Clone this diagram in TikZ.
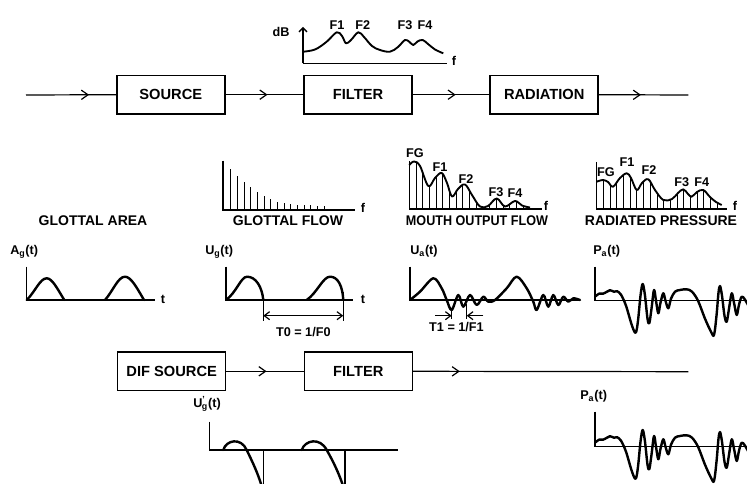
\documentclass[tikz,border=0pt]{standalone}
\usepackage{fontspec}
\setmainfont{Liberation Sans}
\usetikzlibrary{arrows.meta,decorations.markings}
\begin{document}
\begin{tikzpicture}[x=0.75pt,y=-0.75pt,
  box/.style={draw,line width=1.1pt,minimum width=81pt,minimum height=29pt,inner sep=0pt,font=\fontsize{11}{12}\selectfont\bfseries},
  big/.style={inner sep=0pt,font=\fontsize{10.5}{12}\selectfont\bfseries},
  sml/.style={inner sep=0pt,font=\fontsize{9.5}{11}\selectfont\bfseries},
  conn/.style={line width=0.9pt},
  chevat/.style={postaction={decorate},decoration={markings,mark=at position #1 with {\arrow{Straight Barb[length=5pt,width=7pt,line width=0.9pt]}}}},
  axis/.style={line width=1pt},
  wave/.style={line width=1.8pt,line join=round,line cap=round},
  env/.style={line width=1.4pt,line join=round},
  harm/.style={line width=0.75pt},
  dimarr/.style={line width=0.9pt,{Straight Barb[length=4pt,width=6pt]}-{Straight Barb[length=4pt,width=6pt]}}
]
\clip (0,0) rectangle (747,484);
\fill[white] (0,0) rectangle (747,484);

% ---------- top spectrum ----------
\draw[axis,-{Straight Barb[length=3pt,width=6pt]}] (303,63.3) -- (303,27) coordinate (dbtop);
\draw[axis] (303,63.3) -- (446.7,63.3);
\node[sml] (db) at (281,32) {dB};
\node[sml] (ftop) at (454,61) {f};
\draw[env] plot[smooth,tension=0.6] coordinates {(303,51.7) (315,49.5) (326.7,41.7) (336.7,32.3) (342,36) (346,43.3) (351,40) (358.3,32.3) (364,37) (372,46) (380,50) (390,51.7) (398,47) (405,40) (409.5,42) (413.3,45) (417.5,41.5) (422.7,40) (428,44) (435,49.5) (443.3,53.3)};
\node[sml] (tF1) at (337,25.5) {F1};
\node[sml] (tF2) at (362.7,25.5) {F2};
\node[sml] (tF3) at (405,25.5) {F3};
\node[sml] (tF4) at (425,25.5) {F4};

% ---------- top block row ----------
\coordinate (in) at (26,95);
\node[box] (src) at (170.8,94.7) {SOURCE};
\node[box] (flt) at (358,94.7) {FILTER};
\node[box] (rad) at (544.2,94.7) {RADIATION};
\coordinate (out) at (688.3,95);
\draw[conn,chevat=0.7] (in) -- (src.west);
\draw[conn,chevat=0.54] (src.east) -- (flt.west);
\draw[conn,chevat=0.56] (flt.east) -- (rad.west);
\draw[conn,chevat=0.47] (rad.east) -- (out);

% ---------- spectra row ----------
\node[big] (ga) at (93,221) {GLOTTAL AREA};
% glottal flow
\draw[axis] (223,160.7) -- (223,210) -- (355,210);
\foreach \dx/\h in {7/40.7,14/34.3,21/27.7,27.5/22.7,34/18.3,41/14.3,47.5/10.7,54/8.3,61/7.3,67.5/6,74/5.3,81/4.7,87.5/4.7,94/4.3,101/4}
  \draw[harm] ({223+\dx},210) -- ++(0,-\h);
\node[sml] (fgf) at (363,208) {f};
\node[big] (gf) at (288,221) {GLOTTAL FLOW};

% mouth output flow
\def\mouthenv{(409.3,165) (414,161.5) (420,166) (428.3,186) (435,178) (441.7,173) (447,183) (452,196.5) (458,189) (465,184.5) (472,195) (480,206.5) (488,206) (496.7,198.5) (505,206.5) (515,201) (522,205.5) (530,207.5)}
\begin{scope}
  \clip (409.3,209) -- plot[smooth,tension=0.6] coordinates {\mouthenv} -- (530,209) -- cycle;
  \foreach \i in {1,...,18} \draw[harm] ({409.3+6.7*\i},209) -- ++(0,-60);
\end{scope}
\draw[axis] (409.3,161) -- (409.3,209) -- (542,209);
\draw[env] plot[smooth,tension=0.6] coordinates {\mouthenv};
\node[sml] (mFG) at (415,153) {FG};
\node[sml] (mF1) at (440,167) {F1};
\node[sml] (mF2) at (466,179) {F2};
\node[sml] (mF3) at (496,192) {F3};
\node[sml] (mF4) at (515,193.5) {F4};
\node[sml] (mf) at (546,206) {f};
\node[big] (mo) at (477,221) {\scalebox{0.9}[1]{MOUTH OUTPUT FLOW}};

% radiated pressure
\def\radenv{(596.7,181.7) (603,180) (608,182) (613,186.7) (620,178) (626.7,173.3) (631,178) (636.7,190) (642,183) (648.3,179.3) (655,190) (663.3,200) (672,199) (678,193) (683.3,189.3) (688,194) (691.7,196.7) (697,192) (703.3,190) (710,197) (716,202) (721.7,205)}
\begin{scope}
  \clip (596.7,209) -- plot[smooth,tension=0.6] coordinates {\radenv} -- (721.7,209) -- cycle;
  \foreach \i in {1,...,19} \draw[harm] ({596.7+6.7*\i},209) -- ++(0,-60);
\end{scope}
\draw[axis] (596.7,162) -- (596.7,209) -- (727,209);
\draw[env] plot[smooth,tension=0.6] coordinates {\radenv};
\node[sml] (rFG) at (606,172) {FG};
\node[sml] (rF1) at (627,161.7) {F1};
\node[sml] (rF2) at (649,170) {F2};
\node[sml] (rF3) at (681.7,181.7) {F3};
\node[sml] (rF4) at (701.7,181.7) {F4};
\node[sml] (rf) at (735,206) {f};
\node[big] (rp) at (661,221) {RADIATED PRESSURE};

% ---------- waveforms row ----------
% A_g(t)
\node[sml,anchor=base west] (agl) at (10,255) {A\textsubscript{g}(t)};
\draw[axis] (26.7,266.7) -- (26.7,300) -- (155,300);
\node[sml] (agt) at (163,299) {t};
\draw[wave] (26.7,300) .. controls (35,292) and (40,278.3) .. (46.7,278.3) .. controls (52,278.3) and (57,288) .. (64.3,300);
\draw[wave] (105,300) .. controls (113,291) and (118,276.7) .. (125,276.7) .. controls (131,276.7) and (137,288) .. (144,300);

% U_g(t)
\node[sml,anchor=base west] (ugl) at (205,255) {U\textsubscript{g}(t)};
\draw[axis] (226,266.7) -- (226,300) -- (353,300);
\node[sml] (ugt) at (363,299) {t};
\draw[wave] (226,300) .. controls (236,293) and (241,276.7) .. (247,276.7) .. controls (256,276.7) and (262,287) .. (263.3,300);
\draw[wave] (306.7,300) .. controls (317,293) and (323,276.7) .. (330,276.7) .. controls (338,276.7) and (342.5,286) .. (343.3,300);
\coordinate (t0a) at (263.3,300);
\coordinate (t0b) at (343.3,292);
\draw[axis] (t0a) -- (263.3,321) coordinate (t0ab);
\draw[axis] (t0b) -- (343.3,321) coordinate (t0bb);
\coordinate (t0l) at (263.3,315.7);
\coordinate (t0r) at (343.3,315.7);
\draw[dimarr] (t0l) -- (t0r);
\node[sml] (t0) at (303.3,331.7) {T0 = 1/F0};

% U_a(t)
\node[sml,anchor=base west] (ual) at (410,255) {U\textsubscript{a}(t)};
\draw[axis] (410,266.7) -- (410,300) -- (580,300);
\draw[wave] plot[smooth,tension=0.55] coordinates {(410,300) (420,291.7) (433.3,278.3) (441.7,288.3) (446.7,300) (451.7,310) (458.3,295) (463.3,306.7) (470,295) (476.7,305) (483.3,296.7) (488.3,301.7) (495,300) (506.7,288.3) (516.7,276.7) (526.7,288.3) (533.3,301.7) (536.7,310) (543.3,295) (548.3,306.7) (553.3,295) (558.3,305) (563.3,296.7) (568.3,301.7) (573.3,298.3) (580,300)};
\draw[axis] (451.7,309) -- (451.7,319);
\draw[axis] (466.7,304) -- (466.7,319);
\coordinate (t1l) at (451.7,315.7);
\coordinate (t1r) at (466.7,315.7);
\coordinate (t1la) at (435,315.7);
\coordinate (t1ra) at (483.3,315.7);
\draw[line width=0.9pt,-{Straight Barb[length=4pt,width=6pt]}] (t1la) -- (t1l);
\draw[line width=0.9pt,-{Straight Barb[length=4pt,width=6pt]}] (t1ra) -- (t1r);
\node[sml] (t1) at (456.5,327) {T1 = 1/F1};

% P_a(t) upper
\def\pawave{(0,-4) (4,-7) (8,-7) (12,-9) (15,-10.5) (19,-9) (22,-9.5) (26,-6) (31,5) (37,25) (40.7,32) (43,20) (45.5,-5) (47.7,-16.7) (50,-5) (52.5,18) (54.3,22.6) (56.5,8) (59,-10.7) (61,0) (63.3,12.6) (65.5,2) (68.3,-7.4) (70.5,0) (73.3,7.6) (76,-2) (80,-9) (85,-10.7) (91.7,-11.4) (97,-9) (103,0) (110,18) (116,31) (119,34.3) (121.5,15) (123.5,-8) (125,-14.7) (127,-5) (129.5,15) (131.7,21) (134,8) (136.7,-7.4) (139,2) (141.7,14.3) (144,4) (146.7,-4) (150,-1) (155,8)}
\node[sml,anchor=base west] (pal) at (593,255) {P\textsubscript{a}(t)};
\draw[axis] (595,266.7) -- (595,300.7) -- (747,300.7);
\draw[wave,shift={(595,300.7)}] plot[smooth,tension=0.55] coordinates {\pawave};

% ---------- bottom block row ----------
\node[box] (dif) at (171.7,371.3) {DIF SOURCE};
\node[box] (flt2) at (358.3,371.3) {FILTER};
\coordinate (out2) at (688.3,371.7);
\draw[conn,chevat=0.52] (dif.east) -- (flt2.west);
\draw[conn,chevat=0.17] (flt2.east) -- (out2);

% U'_g(t)
\node[sml,anchor=base west] (udl) at (193,408) {U\textsuperscript{'}\kern-0.28em\textsubscript{g}(t)};
\draw[axis] (209.3,421.7) -- (209.3,450) -- (398.3,450);
\draw[wave] (223.3,450) .. controls (226,440) and (241,437) .. (246.7,450) .. controls (252,461) and (259,475) .. (263.3,492);
\draw[axis] (263.3,450) -- (263.3,492);
\draw[wave] (301.7,450) .. controls (305,440) and (320,437) .. (326.7,450) .. controls (333,461) and (340,475) .. (345,492);
\draw[axis] (345,450) -- (345,492);

% P_a(t) lower
\node[sml,anchor=base west] (pal2) at (580,400) {P\textsubscript{a}(t)};
\draw[axis] (595,411.7) -- (595,446.7) -- (747,446.7);
\draw[wave,shift={(595,446.7)}] plot[smooth,tension=0.55] coordinates {\pawave};
\end{tikzpicture}
\end{document}
